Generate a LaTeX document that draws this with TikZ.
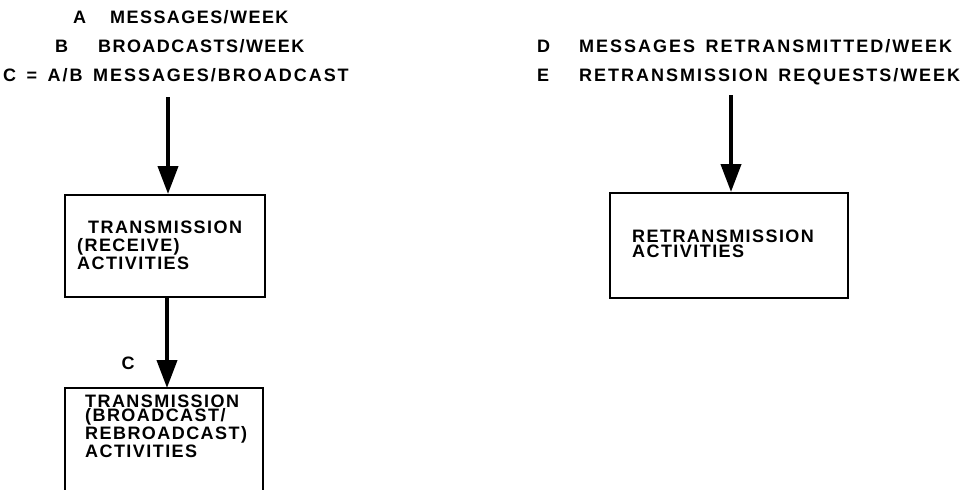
\documentclass[tikz,border=0pt]{standalone}
\usepackage{fontspec}
\setmainfont{Liberation Sans}[LetterSpace=8]
\newfontfamily\headfont{Liberation Sans}[LetterSpace=11, WordSpace=1.5]
\usetikzlibrary{arrows.meta}
\begin{document}
\begin{tikzpicture}[x=1pt,y=-1pt,
  txt/.style={inner sep=0pt, anchor=base west, font=\bfseries\fontsize{18}{14.5}\selectfont, align=left},
  head/.style={txt, font=\headfont\bfseries\fontsize{18}{14.5}\selectfont},
  boxnode/.style={draw, line width=2pt, inner sep=0pt, anchor=north west},
  flow/.style={line width=4pt, -{Triangle[width=20pt,length=28pt]}}
]
\useasboundingbox (0,0) rectangle (964,490);

% quantities feeding the left chain
\node[txt] (la) at (73,23) {A};
\node[txt] (ta) at (110,23) {MESSAGES/WEEK};
\node[txt] (lb) at (55,52) {B};
\node[txt] (tb) at (98,52) {BROADCASTS/WEEK};
\node[head] (tc) at (3,81) {C = A/B MESSAGES/BROADCAST};

% quantities feeding the retransmission box
\node[head] (ld) at (537,52) {D};
\node[head] (td) at (579,52) {MESSAGES RETRANSMITTED/WEEK};
\node[head] (le) at (537,81) {E};
\node[head] (te) at (579,81) {RETRANSMISSION REQUESTS/WEEK};

% activity boxes (multi-line labels are placed by their last baseline)
\node[boxnode, minimum width=200pt, minimum height=102pt] (recv) at (64,194) {};
\node[txt] (recv1) at (77,269) {\hspace*{11pt}TRANSMISSION\\[3.5pt](RECEIVE)\\ACTIVITIES};

\node[boxnode, minimum width=238pt, minimum height=105pt] (retx) at (609,192) {};
\node[txt] (retx1) at (632,257) {RETRANSMISSION\\ACTIVITIES};

% broadcast box runs off the lower edge
\coordinate (bcnw) at (65,388);
\coordinate (bcne) at (263,388);
\coordinate (bcsw) at (65,490);
\coordinate (bcse) at (263,490);
\draw[line width=2pt] (bcsw) -- (bcnw) -- (bcne) -- (bcse);
\coordinate (bcn) at (167,388);
\node[txt] (bc1) at (85,457) {TRANSMISSION\\(BROADCAST/\\REBROADCAST)\\ACTIVITIES};

% flow arrows
\coordinate (srcl) at (168,97);
\coordinate (srcr) at (731,95);
\draw[flow] (srcl) -- (recv.north -| srcl);
\draw[flow] (recv.south -| bcn) -- (bcn);
\draw[flow] (srcr) -- (retx.north -| srcr);
\node[txt, anchor=center] (lc) at (128,363) {C};
\end{tikzpicture}
\end{document}
